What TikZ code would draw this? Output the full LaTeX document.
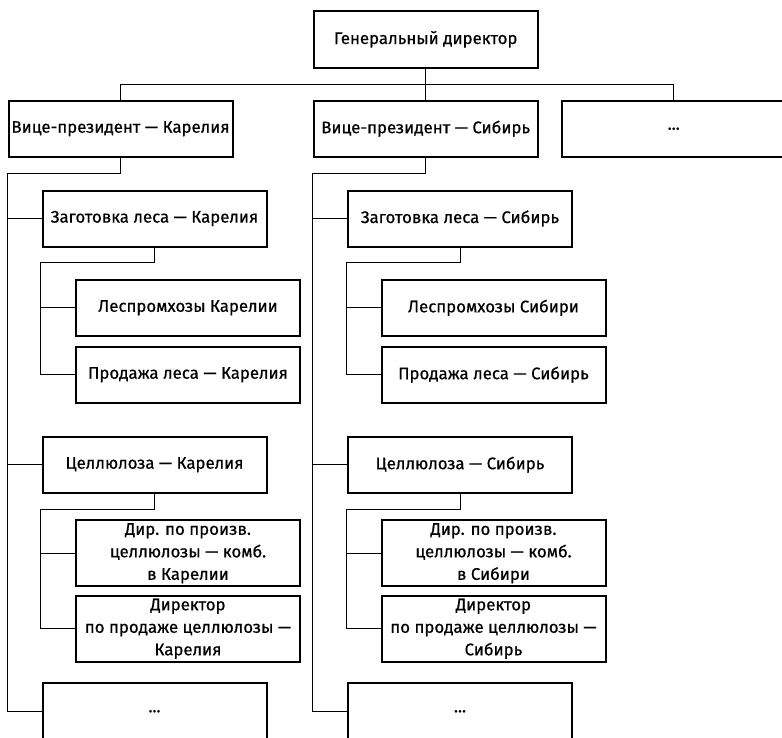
\documentclass[tikz,border=0pt]{standalone}
\usepackage{fontspec}
\setmainfont{Fira Sans}[FakeBold=0.6]
\begin{document}
\begin{tikzpicture}[x=1pt,y=-1pt,
  box/.style={draw, line width=2pt, inner sep=0pt, align=center,
    minimum width=224pt, font=\fontsize{16.8}{22.5}\selectfont},
  mid/.style={box, minimum height=56pt},
  tall/.style={box, minimum height=66pt},
  link/.style={line width=1pt}]
\useasboundingbox (0,0) rectangle (782,737);
\clip (0,0) rectangle (782,737);

% top level
\node[mid, minimum height=56.7pt] (gd) at (425.7,39.3) {Генеральный директор};
\node[mid] (vpk) at (120.5,128.7) {Вице-президент — Карелия};
\node[mid] (vps) at (425.7,128.7) {Вице-президент — Сибирь};
\node[mid] (vpx) at (673.7,128.7) {...};
\coordinate (hub) at (425.7,84);
\draw[link] (gd.south) -- (hub);
\draw[link] (hub) -| (vpk.north);
\draw[link] (hub) -- (vps.north);
\draw[link] (hub) -| (vpx.north);

% Karelia branch
\node[mid] (zk) at (154.5,218.5) {Заготовка леса — Карелия};
\node[mid] (lk) at (188,307.8) {Леспромхозы Карелии};
\node[mid] (pk) at (188,374.7) {Продажа леса — Карелия};
\node[mid] (ck) at (154.5,464.7) {Целлюлоза — Карелия};
\node[tall] (dk) at (188,553.3) {Дир. по произв.\\ целлюлозы — комб.\\ в Карелии};
\node[tall] (sk) at (188,628.8) {Директор\\ по продаже целлюлозы —\\ Карелия};
\node[mid] (xk) at (154.5,711.3) {...};

\coordinate (rk) at (7.3,173.3);
\draw[link] (vpk.south) |- (rk) |- (xk.west);
\draw[link] (rk) |- (zk.west);
\draw[link] (rk) |- (ck.west);
\coordinate (rzk) at (40.7,262.7);
\draw[link] (zk.south) |- (rzk) |- (pk.west);
\draw[link] (rzk) |- (lk.west);
\coordinate (rck) at (40.7,509);
\draw[link] (ck.south) |- (rck) |- (sk.west);
\draw[link] (rck) |- (dk.west);

% Siberia branch
\node[mid] (zs) at (460,218.5) {Заготовка леса — Сибирь};
\node[mid] (ls) at (493.5,307.8) {Леспромхозы Сибири};
\node[mid] (ps) at (493.5,374.7) {Продажа леса — Сибирь};
\node[mid] (cs) at (460,464.7) {Целлюлоза — Сибирь};
\node[tall] (ds) at (493.5,553.3) {Дир. по произв.\\ целлюлозы — комб.\\ в Сибири};
\node[tall] (ss) at (493.5,628.8) {Директор\\ по продаже целлюлозы —\\ Сибирь};
\node[mid] (xs) at (460,711.3) {...};

\coordinate (rs) at (312.8,173.3);
\draw[link] (vps.south) |- (rs) |- (xs.west);
\draw[link] (rs) |- (zs.west);
\draw[link] (rs) |- (cs.west);
\coordinate (rzs) at (346.2,262.7);
\draw[link] (zs.south) |- (rzs) |- (ps.west);
\draw[link] (rzs) |- (ls.west);
\coordinate (rcs) at (346.2,509);
\draw[link] (cs.south) |- (rcs) |- (ss.west);
\draw[link] (rcs) |- (ds.west);
\end{tikzpicture}
\end{document}
